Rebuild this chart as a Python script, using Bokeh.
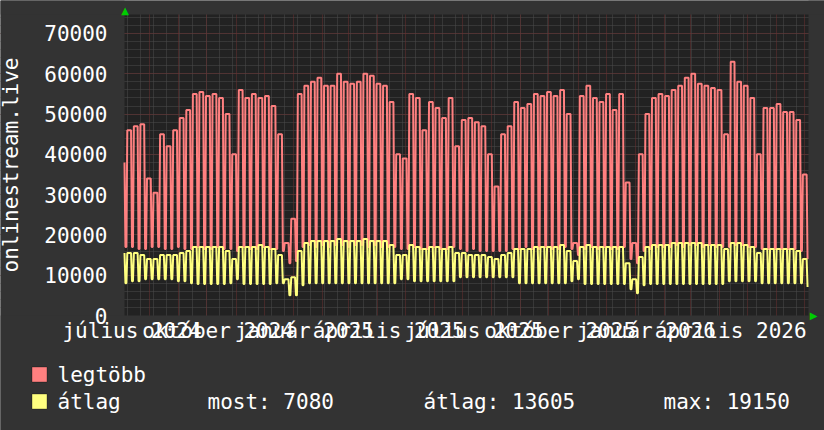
import numpy as np
import pandas as pd
from bokeh.plotting import figure
from bokeh.models import (FixedTicker, Grid, Label, PrintfTickFormatter, BoxAnnotation, Range1d)
from bokeh.embed import file_html
from bokeh.resources import INLINE

# ---------------- data ----------------
START = "2024-07-05"          # first day shown (x = 0)
N_DAYS = 730                  # two years of daily values

# weekly levels (week 0 = partial week starting Fri 2024-07-05, weeks then start on Monday)
red_weekday = [
    38000, 46000, 47000, 47500, 34000, 30500, 45000, 42000, 46000, 49000,
    51000, 55000, 55500, 54500, 55000, 54000, 50000, 40000, 56000, 54000,
    55000, 54000, 54500, 52000, 45000, 18000, 24000, 55000, 57000, 58000,
    59000, 57000, 57000, 60000, 58000, 57500, 58000, 60000, 59500, 57500,
    57000, 53000, 40000, 39000, 55000, 54000, 46000, 53000, 51500, 49000,
    54000, 42000, 48500, 49000, 48000, 47000, 40000, 32000, 45000, 47000,
    53000, 51500, 52500, 55000, 54500, 55500, 54500, 56000, 50000, 18000,
    54500, 57000, 54000, 53000, 55000, 51000, 55000, 33000, 18000, 40000,
    50000, 54000, 55000, 54500, 56000, 57000, 59000, 60000, 57500, 57000,
    56500, 56000, 45000, 63000, 58000, 57000, 54000, 40000, 51500, 51500,
    52500, 50500, 50500, 48500, 35000,
]
red_weekend = [
    17000, 17000, 16500, 16500, 17000, 17000, 16500, 16500, 17000, 16500,
    16500, 17000, 16500, 16500, 17000, 16500, 16500, 16000, 17000, 16500,
    16500, 17000, 16500, 16500, 16000, 13000, 13500, 17000, 17500, 17000,
    17500, 17000, 17500, 17500, 17000, 17500, 17500, 17000, 17500, 17000,
    17000, 17000, 16500, 16500, 17000, 16500, 16500, 17000, 16500, 16500,
    17000, 16500, 16000, 16500, 16000, 16000, 16000, 16000, 16000, 16500,
    16500, 17000, 16500, 16500, 17000, 16500, 16500, 17000, 16500, 15000,
    16500, 17000, 16500, 17000, 16500, 16500, 17000, 14000, 13000, 16000,
    16500, 17000, 17000, 17000, 17500, 17000, 17500, 17500, 17000, 17500,
    17000, 17000, 17000, 17500, 17500, 17000, 17000, 16500, 16500, 16500,
    16500, 16500, 16500, 16000, 14000,
]
avg_weekday = [
    15500, 15500, 15500, 15000, 14000, 14000, 15000, 15000, 15000, 15500,
    16000, 17000, 17000, 17000, 17000, 17000, 16000, 14000, 17000, 17000,
    17000, 17500, 17000, 16500, 15000, 9000, 9500, 16000, 18000, 18500,
    18500, 18500, 18500, 19000, 18500, 18500, 18500, 19000, 18500, 18500,
    18500, 17500, 15000, 15000, 17500, 17000, 16500, 17000, 17000, 16500,
    17000, 15500, 15500, 15000, 15000, 15000, 14500, 14000, 15000, 15500,
    16500, 16500, 16500, 17000, 17000, 17000, 17000, 17500, 16000, 13500,
    17000, 17500, 17000, 17000, 17000, 17000, 17000, 13000, 9000, 14500,
    17000, 17500, 17500, 17500, 18000, 18000, 18000, 18000, 18000, 17500,
    17500, 17500, 16500, 18000, 18000, 17500, 17000, 15500, 16500, 16500,
    16500, 16500, 16500, 16000, 14000,
]
avg_weekend = [
    8000, 8500, 8500, 9000, 9000, 9000, 9000, 9000, 8500, 8500,
    8000, 7800, 7800, 7800, 7800, 7800, 8000, 9000, 7800, 7800,
    7800, 7800, 7800, 8000, 8000, 5000, 5000, 7500, 8000, 8000,
    8000, 8000, 8000, 8000, 8000, 8000, 8000, 8000, 8000, 8000,
    8000, 8000, 9000, 9000, 8500, 8500, 8500, 8500, 8500, 8500,
    8500, 9500, 9500, 9500, 9500, 9500, 9500, 9500, 9500, 9500,
    8000, 8000, 8000, 8000, 8000, 8000, 8000, 8000, 8500, 9000,
    7800, 7800, 7800, 7800, 7800, 7800, 7800, 6500, 5500, 7500,
    7800, 7800, 7800, 7800, 7800, 7800, 7800, 7800, 7800, 7800,
    7800, 7800, 8500, 8500, 8500, 8500, 8500, 8000, 8000, 8000,
    8000, 8000, 8000, 8000, 7080,
]

quarter_starts = ["2024-07-01", "2024-10-01", "2025-01-01", "2025-04-01",
                  "2025-07-01", "2025-10-01", "2026-01-01", "2026-04-01"]
quarter_labels = ["július 2024", "október 2024", "január 2025", "április 2025",
                  "július 2025", "október 2025", "január 2026", "április 2026"]
y_ticks = [0, 10000, 20000, 30000, 40000, 50000, 60000, 70000]

series_names = ["legtöbb", "átlag"]
stat_names = ["most:", "átlag:", "max:"]
stat_values = [7080, 13605, 19150]

# ---------------- build daily series ----------------
start = pd.Timestamp(START)
days = np.arange(N_DAYS)
week = (days + 4) // 7
dow = (days + 4) % 7            # 0 = Monday
weekend = dow >= 5
red = np.where(weekend, np.array(red_weekend)[week], np.array(red_weekday)[week])
avg = np.where(weekend, np.array(avg_weekend)[week], np.array(avg_weekday)[week])

def day_of(date_str):
    return int((pd.Timestamp(date_str) - start).days)

# ---------------- styling ----------------
FONT = "DejaVu Sans Mono"
FS = "21px"
TXT = "#ffffff"
RED = "#ff8080"
YEL = "#ffff80"
OUTER = "#333333"
INNER = "#222222"
W, H = 824, 430

# data area in canvas pixels (the frame covers the whole canvas)
DL, DR, DT, DB = 124, 808, 14, 315
X_MIN, X_MAX = 0, N_DAYS
Y_MIN, Y_MAX = 0, 74716
px_day = (X_MAX - X_MIN) / (DR - DL)
px_val = (Y_MAX - Y_MIN) / (DB - DT)

def px_x(px):
    return X_MIN + (px - DL) * px_day

def px_y(py):
    return Y_MIN + (DB - py) * px_val

X_LO, X_HI = px_x(0), px_x(W)
Y_LO, Y_HI = px_y(H), px_y(0)

p = figure(width=W, height=H, x_range=Range1d(X_LO, X_HI), y_range=Range1d(Y_LO, Y_HI),
           output_backend="svg", toolbar_location=None,
           min_border=0, min_border_left=0, min_border_right=0,
           min_border_top=0, min_border_bottom=0)
p.border_fill_color = OUTER
p.background_fill_color = INNER
p.outline_line_color = None
p.grid.visible = False

# grids
month_days = [day_of(d) for d in pd.date_range("2024-08-01", "2026-07-01", freq="MS").strftime("%Y-%m-%d")]
biweek_days = [d for d in range(3, N_DAYS, 14)]
p.add_layout(Grid(dimension=1, ticker=FixedTicker(ticks=list(range(2000, 74001, 2000))),
                  grid_line_color="#4c4c4c", grid_line_dash="1 1", grid_line_width=1))
p.add_layout(Grid(dimension=0, ticker=FixedTicker(ticks=biweek_days),
                  grid_line_color="#4c4c4c", grid_line_dash="1 1", grid_line_width=1))
p.add_layout(Grid(dimension=1, ticker=FixedTicker(ticks=y_ticks[1:]),
                  grid_line_color="#6a3030", grid_line_dash="1 1", grid_line_width=1))
p.add_layout(Grid(dimension=0, ticker=FixedTicker(ticks=month_days),
                  grid_line_color="#6a3030", grid_line_dash="1 1", grid_line_width=1))

# everything outside the data area is the outer colour (covers the grid lines there)
for l, r, b, t in [(X_LO, X_MIN, Y_LO, Y_HI), (X_MAX, X_HI, Y_LO, Y_HI),
                   (X_LO, X_HI, Y_MAX, Y_HI), (X_LO, X_HI, Y_LO, Y_MIN)]:
    p.add_layout(BoxAnnotation(left=l, right=r, bottom=b, top=t, level="underlay",
                               fill_color=OUTER, fill_alpha=1, line_color=None))

# data lines
p.line(days, red, line_color=RED, line_width=2)
p.line(days, avg, line_color=YEL, line_width=2)

# arrows
p.add_layout(Label(x=px_x(124.5), y=px_y(10), text="▲", text_font="DejaVu Sans",
                   text_font_size="10px", text_color="#00cc00",
                   text_align="center", text_baseline="middle"))
p.add_layout(Label(x=px_x(813), y=px_y(315), text="▶", text_font="DejaVu Sans",
                   text_font_size="10px", text_color="#00cc00",
                   text_align="center", text_baseline="middle"))

# axes (drawn at fixed positions along the data area edges)
lab_pos = [day_of(d) + 12 for d in quarter_starts]
xa = p.xaxis[0]
xa.fixed_location = Y_MIN
xa.ticker = FixedTicker(ticks=lab_pos)
xa.major_label_overrides = {pos: lab for pos, lab in zip(lab_pos, quarter_labels)}
xa.axis_line_color = None
xa.major_tick_line_color = None
xa.minor_tick_line_color = None
xa.major_tick_out = 0
xa.major_tick_in = 0
xa.minor_tick_out = 0
xa.major_label_text_font = FONT
xa.major_label_text_font_size = FS
xa.major_label_text_color = TXT
xa.major_label_standoff = 3

ya = p.yaxis[0]
ya.fixed_location = X_MIN
ya.bounds = (Y_MIN, Y_MAX)
ya.ticker = FixedTicker(ticks=y_ticks)
ya.formatter = PrintfTickFormatter(format="%d")
ya.axis_line_color = None
ya.major_tick_line_color = None
ya.minor_tick_line_color = None
ya.major_tick_out = 0
ya.major_tick_in = 0
ya.minor_tick_out = 0
ya.major_label_text_font = FONT
ya.major_label_text_font_size = FS
ya.major_label_text_color = TXT
ya.major_label_standoff = 17
ya.axis_label = "onlinestream.live"
ya.axis_label_text_font = FONT
ya.axis_label_text_font_size = FS
ya.axis_label_text_font_style = "normal"
ya.axis_label_text_color = TXT
ya.axis_label_standoff = 18

# ---------------- legend ----------------
rows_y = [374, 401]
for row_y, col, name in zip(rows_y, [RED, YEL], series_names):
    p.add_layout(BoxAnnotation(left=px_x(31.5), right=px_x(46.5), top=px_y(row_y - 7.5),
                               bottom=px_y(row_y + 7.5), fill_color=col, fill_alpha=1,
                               line_color="black", line_width=1))
    p.add_layout(Label(x=px_x(57), y=px_y(row_y), text=name, text_font=FONT,
                       text_font_size=FS, text_color=TXT, text_baseline="middle"))
for lx, nm, val in zip([207, 423, 663], stat_names, stat_values):
    p.add_layout(Label(x=px_x(lx), y=px_y(rows_y[1]), text=f"{nm} {val}", text_font=FONT,
                       text_font_size=FS, text_color=TXT, text_baseline="middle"))

open("out.html", "w").write(file_html(p, INLINE))
